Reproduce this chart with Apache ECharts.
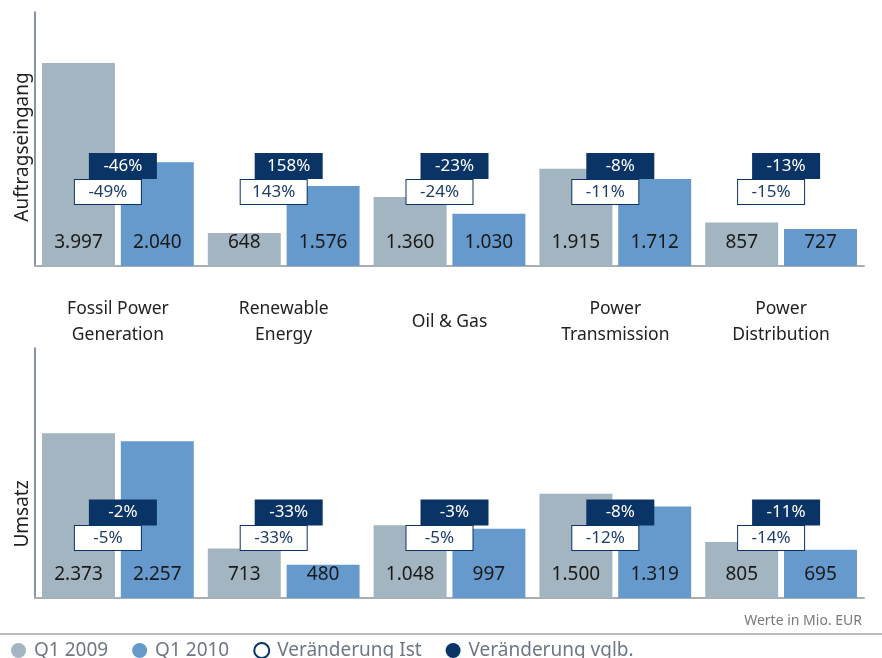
<!DOCTYPE html>
<html>
<head>
<meta charset="utf-8">
<script src="https://cdn.jsdelivr.net/npm/echarts@6/dist/echarts.min.js"></script>
<style>
html, body { margin: 0; padding: 0; background: #fff; }
#chart { width: 882px; height: 658px; }
</style>
</head>
<body>
<div id="chart"></div>
<script>
// Kategorien und Werte (Mio. EUR)
var categories = ['Fossil Power\nGeneration', 'Renewable\nEnergy', 'Oil & Gas', 'Power\nTransmission', 'Power\nDistribution'];

var orders2009 = [3997, 648, 1360, 1915, 857];
var orders2010 = [2040, 1576, 1030, 1712, 727];
var ordersIst  = [-49, 143, -24, -11, -15];
var ordersVglb = [-46, 158, -23, -8, -13];

var sales2009 = [2373, 713, 1048, 1500, 805];
var sales2010 = [2257, 480, 997, 1319, 695];
var salesIst  = [-5, -33, -5, -12, -14];
var salesVglb = [-2, -33, -3, -8, -11];

var GRAY = '#a2b5c0';
var BLUE = '#6699cc';
var NAVY = '#0a3466';
var FONT = '"Noto Sans", sans-serif';

// Hoehe der Prozent-Boxen (Anteil der Gitterhoehe)
var boxLevel = { topVglb: 0.394, topIst: 0.291, botVglb: 0.342, botIst: 0.24 };

function fmt(v) {
    return String(v).replace(/\B(?=(\d{3})+(?!\d))/g, '.');
}

function barSeries(name, gridIdx, data, color) {
    return {
        name: name,
        type: 'bar',
        xAxisIndex: gridIdx,
        yAxisIndex: gridIdx * 2,
        barWidth: '44%',
        barGap: '8%',
        silent: true,
        itemStyle: { color: color },
        label: {
            show: true,
            position: 'insideBottom',
            distance: 14,
            fontSize: 19,
            fontFamily: FONT,
            color: '#1a1a1a',
            formatter: function (p) { return fmt(p.value); }
        },
        data: data
    };
}

function boxSeries(name, gridIdx, level, pcts, dark) {
    return {
        name: name,
        type: 'scatter',
        xAxisIndex: gridIdx,
        yAxisIndex: gridIdx * 2 + 1,
        symbolSize: 0,
        silent: true,
        z: dark ? 5 : 6,
        itemStyle: { color: NAVY, opacity: 1 },
        label: {
            show: true,
            opacity: 1,
            position: 'inside',
            offset: [dark ? 5 : -10, 0],
            width: dark ? 68 : 66,
            height: dark ? 26 : 24,
            lineHeight: dark ? 26 : 24,
            align: 'center',
            verticalAlign: 'middle',
            fontSize: 17,
            fontFamily: FONT,
            color: dark ? '#ffffff' : '#1d3d6b',
            backgroundColor: dark ? NAVY : '#ffffff',
            borderColor: NAVY,
            borderWidth: dark ? 0 : 1,
            formatter: function (p) { return p.value[2] + '%'; }
        },
        data: pcts.map(function (p, i) { return [i, level, p]; })
    };
}

var chart = echarts.init(document.getElementById('chart'));

var valueAxis = function (gridIdx, max) {
    return {
        gridIndex: gridIdx,
        type: 'value',
        min: 0,
        max: max,
        axisLine: { show: true, lineStyle: { color: '#5e7282', width: 1.5 } },
        axisTick: { show: false },
        axisLabel: { show: false },
        splitLine: { show: false }
    };
};

var option = {
    animation: false,
    grid: [
        { left: 35, width: 829, top: 12, height: 254 },
        { left: 35, width: 829, top: 348, height: 250 }
    ],
    xAxis: [
        {
            gridIndex: 0,
            type: 'category',
            data: categories,
            axisTick: { show: false },
            axisLine: { lineStyle: { color: '#a9aeb4', width: 2 } },
            axisLabel: {
                interval: 0,
                margin: 56,
                verticalAlign: 'middle',
                lineHeight: 26,
                fontSize: 17.5,
                fontFamily: FONT,
                color: '#222'
            }
        },
        {
            gridIndex: 1,
            type: 'category',
            data: categories,
            axisTick: { show: false },
            axisLine: { lineStyle: { color: '#a9aeb4', width: 2 } },
            axisLabel: { show: false }
        }
    ],
    yAxis: [
        valueAxis(0, 5000),
        { gridIndex: 0, type: 'value', min: 0, max: 1, show: false },
        valueAxis(1, 3600),
        { gridIndex: 1, type: 'value', min: 0, max: 1, show: false }
    ],
    legend: {
        left: 6,
        top: 636,
        icon: 'circle',
        itemWidth: 15,
        itemHeight: 15,
        itemGap: 24,
        selectedMode: false,
        textStyle: { fontSize: 19, color: '#6e7784', fontFamily: FONT, padding: [0, 0, 0, 3] },
        data: [
            { name: 'Q1 2009' },
            { name: 'Q1 2010' },
            { name: 'Veränderung Ist', itemStyle: { color: '#ffffff', borderColor: NAVY, borderWidth: 2 } },
            { name: 'Veränderung vglb.', itemStyle: { color: NAVY } }
        ]
    },
    graphic: [
        {
            type: 'text', x: 23, y: 147, rotation: Math.PI / 2,
            style: { text: 'Auftragseingang', fontSize: 19, fontFamily: FONT, fill: '#222', align: 'center', verticalAlign: 'middle' }
        },
        {
            type: 'text', x: 23, y: 514, rotation: Math.PI / 2,
            style: { text: 'Umsatz', fontSize: 19, fontFamily: FONT, fill: '#222', align: 'center', verticalAlign: 'middle' }
        },
        {
            type: 'text', x: 862, y: 621,
            style: { text: 'Werte in Mio. EUR', fontSize: 14, fontFamily: FONT, fill: '#7a7a7a', align: 'right', verticalAlign: 'middle' }
        },
        {
            type: 'line',
            shape: { x1: 0, y1: 634, x2: 882, y2: 634 },
            style: { stroke: '#bdbdbd', lineWidth: 2 }
        }
    ],
    series: [
        barSeries('Q1 2009', 0, orders2009, GRAY),
        barSeries('Q1 2010', 0, orders2010, BLUE),
        boxSeries('Veränderung vglb.', 0, boxLevel.topVglb, ordersVglb, true),
        boxSeries('Veränderung Ist', 0, boxLevel.topIst, ordersIst, false),
        barSeries('Q1 2009', 1, sales2009, GRAY),
        barSeries('Q1 2010', 1, sales2010, BLUE),
        boxSeries('Veränderung vglb.', 1, boxLevel.botVglb, salesVglb, true),
        boxSeries('Veränderung Ist', 1, boxLevel.botIst, salesIst, false)
    ]
};

chart.setOption(option);
</script>
</body>
</html>
